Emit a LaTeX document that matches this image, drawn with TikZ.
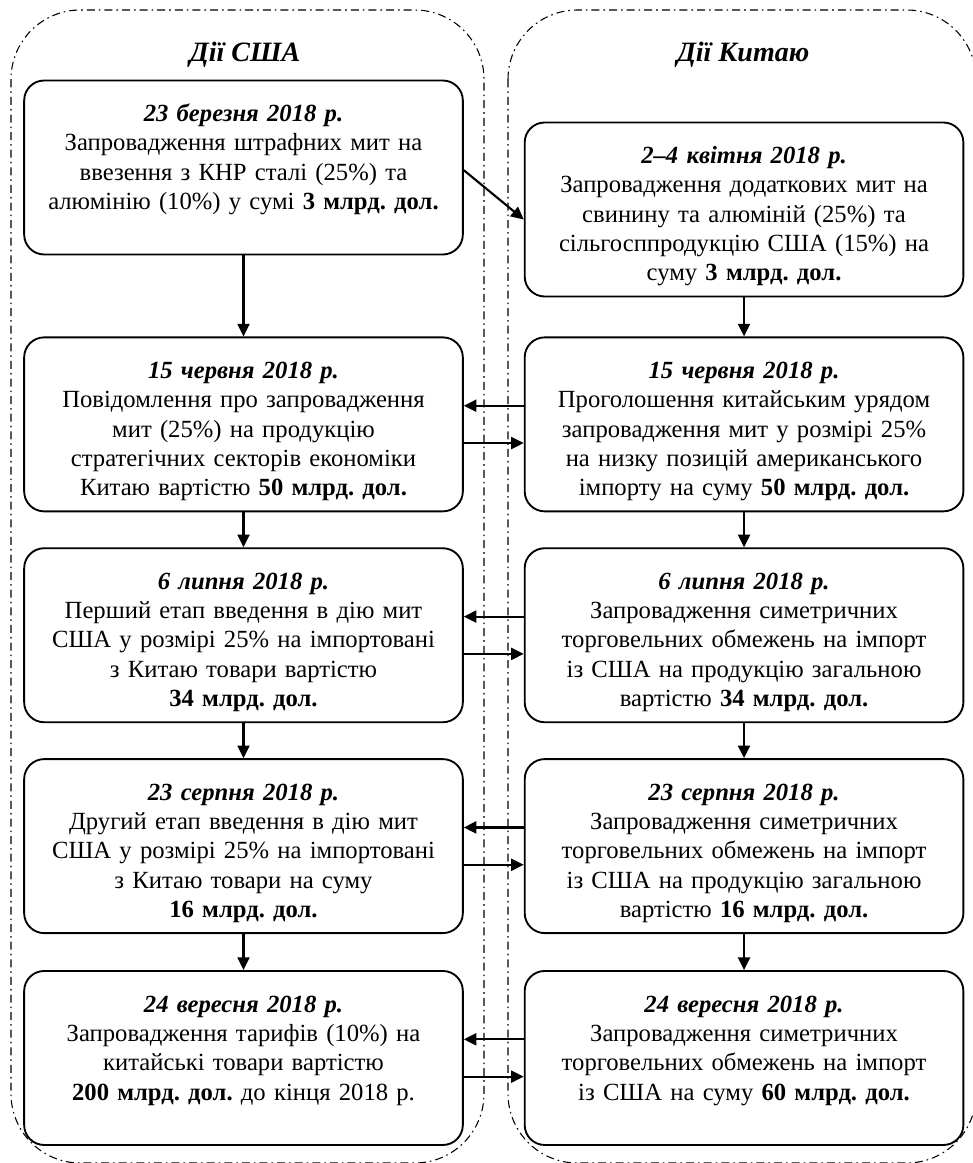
\documentclass[tikz,border=0pt]{standalone}
\usepackage{fontspec}
\setmainfont{Liberation Serif}
\usepackage{tikz}
\usetikzlibrary{arrows.meta, positioning}
\frenchspacing

\begin{document}
\begin{tikzpicture}[x=0.75pt,y=-0.75pt,thick]

	\tikzset{
		event/.style={
				rectangle, rounded corners=15pt, draw=black, line width=1.4pt, inner sep=2pt,
				minimum width=329pt, minimum height=130.5pt, text width=318pt, align=center,
				text height=28.8pt, text depth=97.7pt,
				font=\fontsize{18.5pt}{22pt}\selectfont
			},
		side/.style={
				draw=black, line width=0.8pt, rounded corners=52pt,
				dash pattern=on 6pt off 3pt on 1.2pt off 3pt
			},
		head/.style={
				font=\fontsize{21pt}{24pt}\selectfont\bfseries\itshape
			},
		step arrow/.style={
				line width=1.6pt, -{Triangle[length=9.5pt, width=9pt]}
			},
	}
	\useasboundingbox (0,0) rectangle (972,1163);

	\draw[side] (11,10) rectangle (484,1163);
	\draw[side] (508,10) rectangle (976,1163);

	\node[head](hus) at (245,55){Дії США};
	\node[head](hcn) at (743,55){Дії Китаю};

	\node[event](us1) at (243.5,167.5){\textbf{\textit{23 березня 2018 р.}}\\
		Запровадження штрафних мит на\\
		ввезення з КНР сталі (25\%) та\\
		алюмінію (10\%) у сумі \textbf{3 млрд. дол.}};
	\node[event, below=60.75pt of us1](us2){\textbf{\textit{15 червня 2018 р.}}\\
		Повідомлення про запровадження\\
		мит (25\%) на продукцію\\
		стратегічних секторів економіки\\
		Китаю вартістю \textbf{50 млрд. дол.}};
	\node[event, below=26.25pt of us2](us3){\textbf{\textit{6 липня 2018 р.}}\\
		Перший етап введення в дію мит\\
		США у розмірі 25\% на імпортовані\\
		з Китаю товари вартістю\\
		\textbf{34 млрд. дол.}};
	\node[event, below=26.25pt of us3](us4){\textbf{\textit{23 серпня 2018 р.}}\\
		Другий етап введення в дію мит\\
		США у розмірі 25\% на імпортовані\\
		з Китаю товари на суму\\
		\textbf{16 млрд. дол.}};
	\node[event, below=27pt of us4](us5){\textbf{\textit{24 вересня 2018 р.}}\\
		Запровадження тарифів (10\%) на\\
		китайські товари вартістю\\
		\textbf{200 млрд. дол.} до кінця 2018 р.};

	\node[event, right=45pt of us2](cn2){\textbf{\textit{15 червня 2018 р.}}\\
		Проголошення китайським урядом\\
		запровадження мит у розмірі 25\%\\
		на низку позицій американського\\
		імпорту на суму \textbf{50 млрд. дол.}};
	\node[event, above=29.25pt of cn2](cn1){\textbf{\textit{2–4 квітня 2018 р.}}\\
		Запровадження додаткових мит на\\
		свинину та алюміній (25\%) та\\
		сільгосппродукцію США (15\%) на\\
		суму \textbf{3 млрд. дол.}};
	\node[event, right=45pt of us3](cn3){\textbf{\textit{6 липня 2018 р.}}\\
		Запровадження симетричних\\
		торговельних обмежень на імпорт\\
		із США на продукцію загальною\\
		вартістю \textbf{34 млрд. дол.}};
	\node[event, right=45pt of us4](cn4){\textbf{\textit{23 серпня 2018 р.}}\\
		Запровадження симетричних\\
		торговельних обмежень на імпорт\\
		із США на продукцію загальною\\
		вартістю \textbf{16 млрд. дол.}};
	\node[event, right=45pt of us5](cn5){\textbf{\textit{24 вересня 2018 р.}}\\
		Запровадження симетричних\\
		торговельних обмежень на імпорт\\
		із США на суму \textbf{60 млрд. дол.}};

	\draw[step arrow] ([yshift=-2pt]us1.east)--([yshift=-7.5pt]cn1.west);
	\draw[step arrow] (us1)--(us2);
	\draw[step arrow] (us2)--(us3);
	\draw[step arrow] (us3)--(us4);
	\draw[step arrow] (us4)--(us5);
	\draw[step arrow] (cn1)--(cn2);
	\draw[step arrow] (cn2)--(cn3);
	\draw[step arrow] (cn3)--(cn4);
	\draw[step arrow] (cn4)--(cn5);

	\foreach \row in {2,3,4,5}{
		\draw[step arrow] ([yshift=14pt]cn\row.west)--([yshift=14pt]us\row.east);
		\draw[step arrow] ([yshift=-14pt]us\row.east)--([yshift=-14pt]cn\row.west);
	}

\end{tikzpicture}
\end{document}
